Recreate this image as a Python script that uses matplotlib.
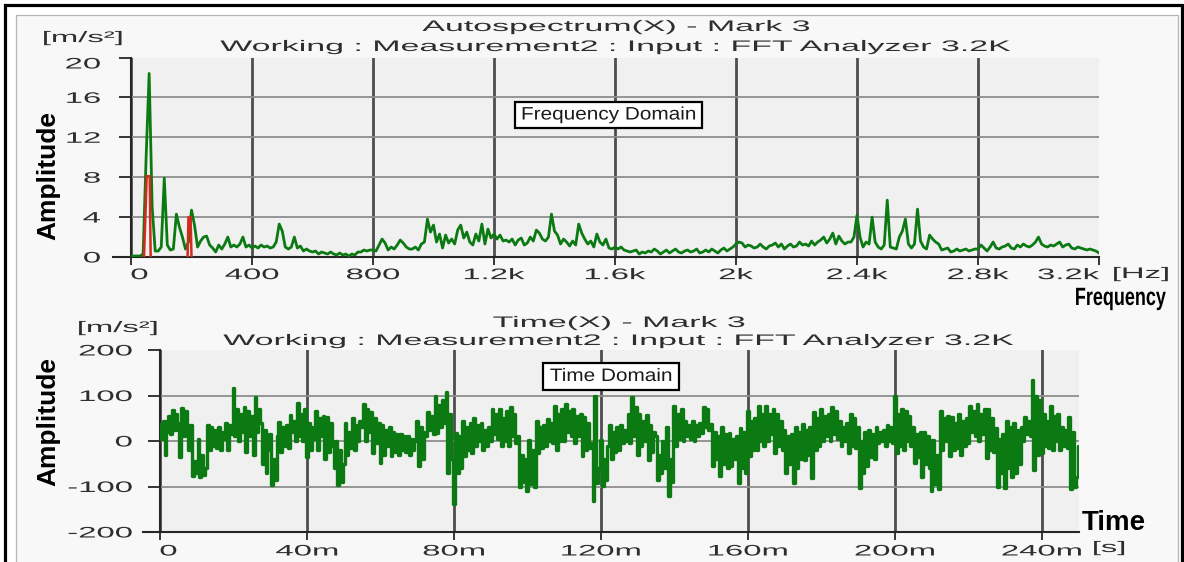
import numpy as np
import matplotlib
matplotlib.use("Agg")
import matplotlib.pyplot as plt
from matplotlib.patches import Rectangle
from matplotlib.patheffects import AbstractPathEffect
from matplotlib.transforms import Affine2D
from matplotlib.lines import Line2D

plt.rcParams['font.family'] = ['Liberation Sans', 'DejaVu Sans']
plt.rcParams['axes.unicode_minus'] = False

# ---------------------------------------------------------------- data
# Autospectrum, 10 Hz bins from 0 to 3200 Hz  [m/s^2]
spectrum_amp = [
    0.1, 0.1, 0.1, 0.1, 0.3, 10.0, 18.4, 5.0, 0.6, 0.6,
    1.0, 7.9, 1.2, 0.7, 0.8, 4.3, 3.0, 2.0, 0.8, 1.5,
    4.7, 3.2, 1.0, 1.6, 2.0, 2.1, 1.2, 0.9, 0.5, 1.2,
    0.8, 1.3, 2.0, 1.0, 1.2, 1.0, 1.3, 2.0, 1.0, 1.2,
    0.9, 1.1, 0.9, 1.2, 1.0, 1.1, 0.9, 1.0, 1.5, 3.3,
    2.6, 1.0, 0.8, 1.0, 2.0, 0.9, 1.1, 0.6, 0.8, 0.6,
    0.5, 0.6, 0.3, 0.5, 0.4, 0.3, 0.5, 0.3, 0.2, 0.4,
    0.2, 0.3, 0.1, 0.3, 0.2, 0.5, 0.5, 0.7, 0.6, 0.7,
    0.7, 0.6, 1.2, 1.8, 1.4, 0.7, 1.0, 0.8, 1.2, 1.7,
    1.4, 1.0, 0.8, 0.8, 1.0, 0.7, 1.3, 1.5, 3.8, 2.5,
    3.2, 1.5, 2.3, 0.9, 2.2, 1.4, 1.8, 1.3, 2.7, 3.2,
    1.9, 2.5, 1.5, 1.2, 2.3, 1.6, 3.3, 1.3, 2.8, 1.9,
    2.3, 1.8, 2.2, 1.6, 1.7, 1.5, 1.8, 1.2, 1.7, 1.9,
    1.2, 1.4, 2.0, 1.6, 2.7, 2.4, 1.8, 1.6, 2.0, 4.3,
    2.6, 2.2, 1.3, 1.8, 1.5, 1.1, 1.6, 1.2, 3.3, 2.4,
    1.8, 1.3, 1.6, 1.0, 2.3, 1.5, 1.2, 1.8, 0.9, 0.8,
    1.0, 0.8, 1.0, 0.7, 0.6, 0.5, 0.6, 0.7, 0.3, 0.5,
    0.4, 0.6, 0.5, 0.8, 0.6, 0.3, 0.5, 0.7, 0.4, 0.6,
    0.8, 0.5, 0.4, 0.6, 0.7, 0.5, 0.6, 0.8, 0.4, 0.5,
    0.7, 0.5, 0.8, 0.6, 0.4, 0.7, 0.9, 0.6, 0.8, 1.0,
    1.3, 1.5, 1.4, 1.0, 1.2, 1.1, 0.9, 1.0, 1.3, 1.0,
    0.8, 1.1, 1.2, 1.4, 1.0, 1.3, 0.8, 1.1, 1.3, 1.0,
    1.1, 1.5, 1.2, 1.3, 1.1, 1.6, 1.2, 1.5, 1.7, 2.0,
    1.4, 1.8, 2.4, 1.3, 2.1, 1.6, 1.3, 1.5, 1.5, 2.0,
    4.2, 2.0, 1.0, 1.5, 1.3, 4.0, 1.5, 1.0, 0.8, 1.2,
    5.7, 1.0, 0.9, 0.8, 2.0, 2.6, 3.8, 1.3, 0.9, 1.3,
    4.8, 1.6, 1.0, 0.8, 2.2, 1.8, 1.5, 1.3, 0.7, 0.8,
    0.9, 0.5, 0.6, 0.8, 0.6, 0.7, 0.8, 0.6, 0.7, 0.8,
    0.8, 1.2, 0.9, 0.6, 1.0, 1.5, 0.9, 0.8, 1.0, 1.1,
    1.3, 0.9, 0.8, 1.2, 1.0, 1.3, 1.1, 1.0, 1.2, 1.5,
    2.0, 1.3, 1.1, 1.0, 1.2, 1.1, 1.3, 1.5, 1.0, 1.2,
    1.3, 0.9, 0.8, 1.0, 0.9, 0.8, 0.7, 0.8, 0.7, 0.6,
    0.4,
]
freq_hz = np.arange(len(spectrum_amp)) * 10.0

# harmonic markers
marker1_hz = [43, 52, 62, 65]
marker1_amp = [0.0, 8.1, 8.1, 0.0]
marker2_hz = [187, 190, 197, 200]
marker2_amp = [0.0, 4.0, 4.0, 0.0]

# Time record, 0.5 ms samples from 0 to 250 ms  [m/s^2]
accel = [
    38, 5, 45, -30, 20, 55, 15, 68, 25, 60, 40, -35, 72, 10, 65, 30, -20, 35, -78, -45,
    -70, 5, -80, -30, -75, -60, 35, -20, 30, -10, 25, -15, 30, -20, 20, 5, 40, -20, 35, 15,
    116, 10, 70, 0, 60, 20, 75, -25, 65, 10, 55, -30, 96, 20, 70, 40, -50, 25, -70, -20,
    15, -96, -40, -85, 10, 42, -25, 30, -10, 35, -15, 57, 20, 45, 0, 83, 10, 60, 0, 70,
    -35, 40, -20, 30, 5, 65, -20, 50, 10, 55, -40, 53, -25, 40, -10, -60, 0, -96, -20, -90,
    -50, 40, -30, 20, -15, 50, -20, 35, 0, 45, 30, 82, 0, 70, 20, 64, -27, 50, -5, 40,
    -48, 35, -30, 25, -10, 31, -34, 20, -25, 15, -30, 15, -20, 10, -25, 10, -30, 5, -20, 0,
    45, -56, 30, -40, 20, 10, 64, 25, 55, 15, 100, 17, 80, 30, 90, 40, 107, -70, 60, -40,
    -139, 17, -70, 10, -60, 45, -34, 30, -20, 40, -27, 50, -10, 35, 0, 40, -20, 25, -10, 30,
    0, 70, 15, 60, 5, 70, -12, 50, 0, 65, -12, 75, 10, 60, -5, 10, -100, -30, -90, -40,
    -110, 2, -95, -20, -100, 45, -27, 30, -15, 35, -12, 49, 0, 40, -5, 78, -20, 60, 0, 70,
    0, 82, 20, 65, 10, 70, -5, 55, 10, 60, -34, 53, -20, 40, -15, -5, -132, 100, -92, -60,
    2, -99, -40, -85, -10, 35, -40, 20, -25, 30, -20, 35, -5, 25, 0, 60, -5, 96, 10, 75,
    -30, 60, -10, 45, 0, 57, -41, 35, -25, 20, 10, -85, -30, -70, 0, -60, 31, -121, -40, -90,
    78, -10, 60, 5, 70, 0, 45, 10, 35, 5, 45, 0, 35, 10, 40, 17, 75, 30, 70, 25,
    38, -56, 20, -40, 10, -78, 30, -50, 15, -60, 17, -56, 5, -40, 10, -92, 28, -60, 20, -70,
    67, -34, 45, -20, 50, -20, 78, 0, 60, -10, 78, 0, 60, 15, 70, -27, 60, -10, 45, -20,
    24, -70, 10, -50, 15, -92, 30, -60, 20, -40, 38, -41, 25, -30, 30, -81, 64, -20, 50, -10,
    70, 0, 55, 10, 60, 0, 75, 15, 65, 5, 45, -12, 30, 0, 40, -27, 60, -10, 50, -15,
    30, -103, 0, -70, 20, -55, 24, -35, 15, -40, 31, -5, 20, 0, 25, -10, 35, 0, 30, -5,
    100, -27, 60, -10, 70, -20, 67, 0, 55, -10, 31, -48, 15, -35, 20, -80, 20, -50, 10, -60,
    -110, 2, -95, -30, -105, 67, -20, 50, 0, 55, -34, 53, -20, 40, -15, 60, -30, 45, -10, 50,
    -5, 78, 20, 65, 10, 82, 0, 60, 15, 70, -38, 70, -20, 50, -25, 28, -100, 5, -70, 15,
    -103, 45, -60, 30, -80, 40, -70, 25, -50, 30, 0, 53, 15, 45, 10, 133, -63, 100, -30, 90,
    -27, 60, -10, 45, -15, 78, -20, 55, 0, 60, -20, 31, -10, 25, -15, 53, -106, 20, -100, -80,
    -12,
]
time_ms = np.arange(len(accel)) * 0.5

freq_ticks = [0, 400, 800, 1200, 1600, 2000, 2400, 2800, 3200]
freq_tick_labels = ['0', '400', '800', '1.2k', '1.6k', '2k', '2.4k', '2.8k', '3.2k']
spec_yticks = [0, 4, 8, 12, 16, 20]
time_ticks = [0, 40, 80, 120, 160, 200, 240]
time_tick_labels = ['0', '40m', '80m', '120m', '160m', '200m', '240m']
acc_yticks = [-200, -100, 0, 100, 200]


# ---------------------------------------------------------------- helpers
class Widen(AbstractPathEffect):
    """Draw text glyphs stretched horizontally about an anchor."""

    def __init__(self, sx, anchor='center'):
        super().__init__()
        self._sx = sx
        self._anchor = anchor

    def draw_path(self, renderer, gc, tpath, affine, rgbFace=None):
        if len(tpath.vertices) == 0:
            return
        ext = tpath.get_extents(affine)
        if self._anchor == 'left':
            x0 = ext.x0
        elif self._anchor == 'right':
            x0 = ext.x1
        else:
            x0 = 0.5 * (ext.x0 + ext.x1)
        if not np.isfinite(x0):
            renderer.draw_path(gc, tpath, affine, rgbFace)
            return
        aff = affine + Affine2D().translate(-x0, 0).scale(self._sx, 1).translate(x0, 0)
        renderer.draw_path(gc, tpath, aff, rgbFace)


W, H = 1184, 562
GREEN = '#0b7a12'
RED = '#d42a1e'
TXT = '#2e2e2e'
SX = 2.15
SX_TITLE = 2.22


def fx(px):
    return px / W


def fy(py):
    return 1 - py / H


fig = plt.figure(figsize=(W / 100, H / 100), dpi=100, facecolor='white')

# outer frame and panel
fig.patches.append(Rectangle((fx(5), -0.05), fx(1182 - 5), fy(5) + 0.05,
                             transform=fig.transFigure, facecolor='white',
                             edgecolor='black', lw=2.3, zorder=-10))
fig.patches.append(Rectangle((fx(15.5), -0.05), fx(1178 - 15.5), fy(14.5) + 0.05,
                             transform=fig.transFigure, facecolor='#f8f8f8',
                             edgecolor='#b5b5b5', lw=0.9, zorder=-9))

ax1 = fig.add_axes([fx(131), fy(257), fx(1099 - 131), (257 - 57.5) / H])
ax2 = fig.add_axes([fx(160), fy(532), fx(1078.5 - 160), (532 - 350) / H])


def style(ax):
    ax.set_facecolor('#f0f0f0')
    for s in ('top', 'right'):
        ax.spines[s].set_visible(False)
    for s in ('left', 'bottom'):
        ax.spines[s].set_color('#262626')
        ax.spines[s].set_linewidth(1.5)
    ax.grid(axis='x', color='#4d4d4d', lw=2.0)
    ax.grid(axis='y', color='#8e8e8e', lw=1.3)
    ax.set_axisbelow(True)
    ax.tick_params(axis='both', colors='#262626', labelcolor=TXT, labelsize=11, width=1.3)
    # bottom axis line runs a little past the origin
    ax.add_line(Line2D([-0.0185, 0], [0, 0], transform=ax.transAxes, color='#262626',
                       lw=1.5, clip_on=False))


# ---------------------------------------------------------------- spectrum
style(ax1)
ax1.plot(freq_hz, spectrum_amp, color=GREEN, lw=2.0, zorder=3)
ax1.plot(marker1_hz, marker1_amp, color=RED, lw=1.8, zorder=4)
ax1.plot(marker2_hz, marker2_amp, color=RED, lw=1.8, zorder=4)
ax1.set_xlim(0, 3200)
ax1.set_ylim(0, 20)
ax1.set_xticks(freq_ticks)
ax1.set_xticklabels(freq_tick_labels)
ax1.set_yticks(spec_yticks)
ax1.set_yticklabels([str(v) for v in spec_yticks])
ax1.tick_params(axis='y', length=9, pad=13)
ax1.tick_params(axis='x', length=6, pad=2)
ax1.xaxis.get_gridlines()[-1].set_visible(False)
ax1.yaxis.get_gridlines()[-1].set_visible(False)

# ---------------------------------------------------------------- time record
style(ax2)
ax2.plot(time_ms, accel, color=GREEN, lw=2.4, drawstyle='steps-mid', zorder=3)
ax2.set_xlim(0, 250)
ax2.set_ylim(-200, 200)
ax2.set_xticks(time_ticks)
ax2.set_xticklabels(time_tick_labels)
ax2.set_yticks(acc_yticks)
ax2.set_yticklabels([str(v) for v in acc_yticks])
ax2.tick_params(axis='y', length=9, pad=11)
ax2.tick_params(axis='x', length=6, pad=3)
ax2.yaxis.get_gridlines()[-1].set_visible(False)

# ---------------------------------------------------------------- texts
wide_t = [Widen(SX_TITLE, 'center')]
wide_l = [Widen(SX, 'left')]

fig.text(fx(616), fy(27), 'Autospectrum(X) - Mark 3', ha='center', va='center',
         fontsize=11, color=TXT, path_effects=wide_t)
fig.text(fx(615), fy(47), 'Working : Measurement2 : Input : FFT Analyzer 3.2K',
         ha='center', va='center', fontsize=11, color=TXT, path_effects=wide_t)
fig.text(fx(43), fy(38), '[m/s²]', ha='left', va='center', fontsize=11, color=TXT,
         path_effects=wide_l)
fig.text(fx(1113), fy(274), '[Hz]', ha='left', va='center', fontsize=11, color=TXT,
         path_effects=wide_l)

fig.text(fx(619), fy(323), 'Time(X) - Mark 3', ha='center', va='center',
         fontsize=11, color=TXT, path_effects=wide_t)
fig.text(fx(618), fy(341), 'Working : Measurement2 : Input : FFT Analyzer 3.2K',
         ha='center', va='center', fontsize=11, color=TXT, path_effects=wide_t)
fig.text(fx(78), fy(328), '[m/s²]', ha='left', va='center', fontsize=11, color=TXT,
         path_effects=wide_l)
fig.text(fx(1093), fy(548), '[s]', ha='left', va='center', fontsize=11, color=TXT,
         path_effects=wide_l)

fig.text(fx(48), fy(175), 'Amplitude', rotation=90, ha='center', va='center',
         fontsize=19, fontweight='bold', color='black')
fig.text(fx(48), fy(422), 'Amplitude', rotation=90, ha='center', va='center',
         fontsize=19, fontweight='bold', color='black')
fig.text(fx(1166), fy(298), 'Frequency', ha='right', va='center',
         fontsize=18, fontweight='bold', color='black',
         path_effects=[Widen(0.72, 'right')])
fig.text(fx(1082), fy(523), 'Time', ha='left', va='center',
         fontsize=20, fontweight='bold', color='black')

# boxed domain labels
for (x0, y0, x1, y1), label in (((515, 102, 702, 128), 'Frequency Domain'),
                                ((543, 363, 679, 390), 'Time Domain')):
    fig.add_artist(Rectangle((fx(x0), fy(y1)), fx(x1 - x0), (y1 - y0) / H,
                             transform=fig.transFigure, facecolor='white',
                             edgecolor='black', lw=1.6, zorder=5))
    fig.text(fx((x0 + x1) / 2), fy((y0 + y1) / 2), label, ha='center', va='center',
             fontsize=13, color='#1a1a1a', zorder=6, path_effects=[Widen(1.15, 'center')])

fig.canvas.draw()
for ax in (ax1, ax2):
    for lbl in ax.get_xticklabels():
        lbl.set_path_effects([Widen(SX, 'center')])
    for lbl in ax.get_yticklabels():
        lbl.set_path_effects([Widen(SX, 'right')])

# end labels sit inside the axis span
for ax in (ax1, ax2):
    first = ax.get_xticklabels()[0]
    first.set_horizontalalignment('left')
    first.set_path_effects([Widen(SX, 'left')])
last = ax1.get_xticklabels()[-1]
last.set_horizontalalignment('right')
last.set_path_effects([Widen(SX, 'right')])
ax1.get_yticklabels()[-1].set_verticalalignment('top')

fig.savefig('out.png', dpi=100, facecolor=fig.get_facecolor())
